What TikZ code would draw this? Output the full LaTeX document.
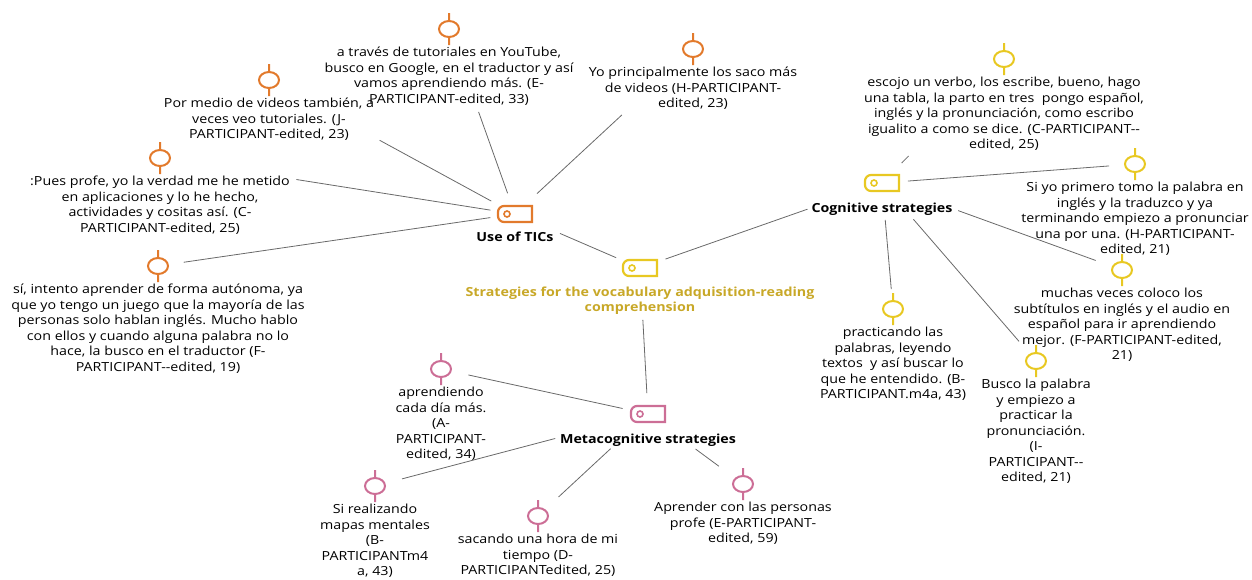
\documentclass[tikz,border=0pt]{standalone}
\usepackage{fontspec}
\setmainfont{Open Sans}[FakeStretch=1.14]
\usetikzlibrary{positioning}
\definecolor{ticorange}{RGB}{226,122,44}
\definecolor{cogyellow}{RGB}{232,200,34}
\definecolor{maingold}{RGB}{200,168,40}
\definecolor{metapink}{RGB}{204,110,150}
\definecolor{linkgray}{RGB}{105,105,105}
\tikzset{
  code/.style={minimum width=40pt,minimum height=22pt,inner sep=0pt,
    path picture={
      \draw[line width=2.2pt,#1] (path picture bounding box.center)
        ++(17pt,8pt) -- ++(-28pt,0pt) arc[start angle=90,end angle=180,radius=6pt]
        -- ++(0pt,-4pt) arc[start angle=180,end angle=270,radius=6pt]
        -- ++(28pt,0pt) -- cycle;
      \draw[line width=1.6pt,#1] (path picture bounding box.center) ++(-8pt,0pt) circle (3pt);
    }},
  quote/.style={minimum width=26pt,minimum height=32pt,inner sep=0pt,
    path picture={
      \draw[line width=2pt,#1]
        (path picture bounding box.north) -- ++(0pt,-8pt)
        (path picture bounding box.south) -- ++(0pt,8pt)
        (path picture bounding box.center) ellipse (10pt and 8pt);
    }},
  quotetext/.style={align=center,inner sep=0pt,font=\fontsize{12.5}{15.5}\selectfont},
  hublabel/.style={align=center,inner sep=0pt,font=\bfseries\fontsize{12.5}{15}\selectfont},
  links/.style={every edge/.style={draw=linkgray,line width=0.8pt}},
  ends/.style 2 args={shorten <=#1pt,shorten >=#2pt}
}
\begin{document}
\begin{tikzpicture}[x=1pt,y=-1pt]
\useasboundingbox (0,0) rectangle (1252,579);
% hubs
\node[code=ticorange] (tics) at (515,214) {};
\node[hublabel,below=7pt of tics] (ticslabel) {Use of TICs};
\node[code=cogyellow] (main) at (640,268) {};
\node[hublabel,text=maingold,below=8pt of main] (mainlabel) {Strategies for the vocabulary adquisition-reading\\comprehension};
\node[code=cogyellow] (cog) at (882,183) {};
\node[hublabel,below=9pt of cog] (coglabel) {Cognitive strategies};
\node[code=metapink] (meta) at (648,414) {};
\node[hublabel,below=9pt of meta] (metalabel) {Metacognitive strategies};
% use of TICs
\node[quote=ticorange] (q1) at (449,29) {};
\node[quotetext,below=2pt of q1] (t1) {a través de tutoriales en YouTube,\\busco en Google, en el traductor y así\\vamos aprendiendo más. (E-\\PARTICIPANT-edited, 33)};
\node[quote=ticorange] (q2) at (269,80) {};
\node[quotetext,below=2pt of q2] (t2) {Por medio de videos también, a\\veces veo tutoriales. (J-\\PARTICIPANT-edited, 23)};
\node[quote=ticorange] (q3) at (160,158) {};
\node[quotetext,below=2pt of q3] (t3) {:Pues profe, yo la verdad me he metido\\en aplicaciones y lo he hecho,\\actividades y cositas así. (C-\\PARTICIPANT-edited, 25)};
\node[quote=ticorange] (q4) at (158,266) {};
\node[quotetext,below=2pt of q4] (t4) {sí, intento aprender de forma autónoma, ya\\que yo tengo un juego que la mayoría de las\\personas solo hablan inglés. Mucho hablo\\con ellos y cuando alguna palabra no lo\\hace, la busco en el traductor (F-\\PARTICIPANT-{}-edited, 19)};
\node[quote=ticorange] (q5) at (693,49) {};
\node[quotetext,below=2pt of q5] (t5) {Yo principalmente los saco más\\de videos (H-PARTICIPANT-\\edited, 23)};
% cognitive strategies
\node[quote=cogyellow] (q6) at (1004,59) {};
\node[quotetext,below=2pt of q6] (t6) {escojo un verbo, los escribe, bueno, hago\\una tabla, la parto en tres\ \ pongo español,\\inglés y la pronunciación, como escribo\\igualito a como se dice. (C-PARTICIPANT-{}-\\edited, 25)};
\node[quote=cogyellow] (q7) at (1135,164) {};
\node[quotetext,below=2pt of q7] (t7) {Si yo primero tomo la palabra en\\inglés y la traduzco y ya\\terminando empiezo a pronunciar\\una por una. (H-PARTICIPANT-\\edited, 21)};
\node[quote=cogyellow] (q8) at (1122,270) {};
\node[quotetext,below=2pt of q8] (t8) {muchas veces coloco los\\subtítulos en inglés y el audio en\\español para ir aprendiendo\\mejor. (F-PARTICIPANT-edited,\\21)};
\node[quote=cogyellow] (q9) at (893,309) {};
\node[quotetext,below=2pt of q9] (t9) {practicando las\\palabras, leyendo\\textos\ \ y así buscar lo\\que he entendido. (B-\\PARTICIPANT.m4a, 43)};
\node[quote=cogyellow] (q10) at (1036,361) {};
\node[quotetext,below=2pt of q10] (t10) {Busco la palabra\\y empiezo a\\practicar la\\pronunciación.\\(I-\\PARTICIPANT-{}-\\edited, 21)};
% metacognitive strategies
\node[quote=metapink] (q11) at (441,369) {};
\node[quotetext,below=2pt of q11] (t11) {aprendiendo\\cada día más.\\(A-\\PARTICIPANT-\\edited, 34)};
\node[quote=metapink] (q12) at (375,486) {};
\node[quotetext,below=2pt of q12] (t12) {Si realizando\\mapas mentales\\(B-\\PARTICIPANTm4\\a, 43)};
\node[quote=metapink] (q13) at (538,516) {};
\node[quotetext,below=2pt of q13] (t13) {sacando una hora de mi\\tiempo (D-\\PARTICIPANTedited, 25)};
\node[quote=metapink] (q14) at (743,484) {};
\node[quotetext,below=2pt of q14] (t14) {Aprender con las personas\\profe (E-PARTICIPANT-\\edited, 59)};
\path[links]
  (q1.center) edge[ends={88}{22}] (tics.center)
  (q2.center) edge[ends={126}{27}] (tics.center)
  (q3.center) edge[ends={138}{25}] (tics.center)
  (q4.center) edge[ends={26}{25}] (tics.center)
  (q5.center) edge[ends={97}{30}] (tics.center)
  (tics.center) edge[ends={49}{26}] (main.center)
  (main.center) edge[ends={27}{79}] (cog.center)
  (main.center) edge[ends={52}{21}] (meta.center)
  (q6.center) edge[ends={136}{28}] (cog.center)
  (q7.center) edge[ends={26}{26}] (cog.center)
  (q8.center) edge[ends={28}{81}] (cog.center)
  (q9.center) edge[ends={20}{37}] (cog.center)
  (q10.center) edge[ends={26}{48}] (cog.center)
  (q11.center) edge[ends={28}{26}] (meta.center)
  (q12.center) edge[ends={28}{96}] (meta.center)
  (q13.center) edge[ends={28}{51}] (meta.center)
  (q14.center) edge[ends={30}{59}] (meta.center);
\end{tikzpicture}
\end{document}
